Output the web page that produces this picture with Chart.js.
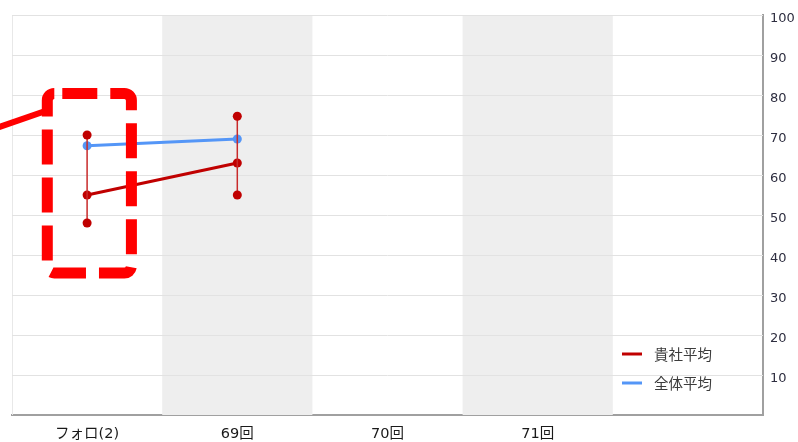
<!DOCTYPE html>
<html>
<head>
<meta charset="utf-8">
<script src="https://cdn.jsdelivr.net/npm/chart.js@4/dist/chart.umd.min.js"></script>
<style>
  html, body { margin: 0; padding: 0; background: #ffffff; }
  #wrap { width: 798px; height: 442px; position: relative; }
</style>
</head>
<body>
<div id="wrap"><canvas id="c" width="798" height="442"></canvas></div>
<script>
// Categories (the fifth slot is an empty column)
const categories = ['フォロ(2)', '69回', '70回', '71回', ''];

// 貴社平均 with its min/max range
const companyAvg  = [55, 63, null, null, null];
const companyLow  = [48, 55, null, null, null];
const companyHigh = [70, 74.7, null, null, null];

// 全体平均
const overallAvg = [67.3, 69, null, null, null];

// Value axis ticks
const yTicks = [10, 20, 30, 40, 50, 60, 70, 80, 90, 100];

const RED = '#c00000';
const BLUE = '#5496f7';
const FONT = '"DejaVu Sans", "Noto Sans CJK JP", sans-serif';

// Shaded bands behind every other category column
const bandPlugin = {
  id: 'bands',
  beforeDatasetsDraw(chart) {
    const { ctx, chartArea, scales: { x } } = chart;
    const step = x.getPixelForValue(1) - x.getPixelForValue(0);
    ctx.save();
    for (let i = 1; i < categories.length; i += 2) {
      const cx = x.getPixelForValue(i);
      ctx.fillStyle = '#eeeeee';
      ctx.fillRect(cx - step / 2, chartArea.top, step, chartArea.bottom - chartArea.top);
    }
    ctx.strokeStyle = '#e8e8e8';
    ctx.lineWidth = 1;
    ctx.beginPath();
    ctx.moveTo(chartArea.left + 0.5, chartArea.top);
    ctx.lineTo(chartArea.left + 0.5, chartArea.bottom);
    ctx.stroke();
    ctx.restore();
  }
};

// Gridlines redrawn over the bands so they stay visible
const gridOverBands = {
  id: 'gridOverBands',
  beforeDatasetsDraw(chart) {
    const { ctx, chartArea, scales: { y } } = chart;
    ctx.save();
    ctx.strokeStyle = '#e2e2e2';
    ctx.lineWidth = 1;
    yTicks.forEach(v => {
      const py = Math.round(y.getPixelForValue(v)) + 0.5;
      ctx.beginPath();
      ctx.moveTo(chartArea.left, py);
      ctx.lineTo(chartArea.right, py);
      ctx.stroke();
    });
    ctx.restore();
  }
};

// Vertical min/max bars for 貴社平均
const rangePlugin = {
  id: 'rangeBars',
  afterDatasetsDraw(chart) {
    const { ctx, scales: { x, y } } = chart;
    ctx.save();
    companyLow.forEach((lo, i) => {
      const hi = companyHigh[i];
      if (lo == null || hi == null) return;
      const px = x.getPixelForValue(i);
      const yLo = y.getPixelForValue(lo);
      const yHi = y.getPixelForValue(hi);
      ctx.strokeStyle = '#c82a2a';
      ctx.lineWidth = 1.5;
      ctx.beginPath();
      ctx.moveTo(px, yHi);
      ctx.lineTo(px, yLo);
      ctx.stroke();
      ctx.fillStyle = RED;
      [yLo, yHi].forEach(py => {
        ctx.beginPath();
        ctx.arc(px, py, 4.5, 0, Math.PI * 2);
        ctx.fill();
      });
    });
    ctx.restore();
  }
};

// Legend drawn inside the plot, lower right
const innerLegend = {
  id: 'innerLegend',
  afterDraw(chart) {
    const { ctx, chartArea } = chart;
    ctx.save();
    ctx.font = '14.5px "Noto Sans CJK JP", sans-serif';
    ctx.textBaseline = 'middle';
    ctx.textAlign = 'left';
    chart.data.datasets.forEach((ds, i) => {
      const yy = chartArea.bottom - 61 + i * 29;
      const xx = chartArea.right - 141;
      ctx.strokeStyle = ds.borderColor;
      ctx.lineWidth = 3;
      ctx.beginPath();
      ctx.moveTo(xx, yy);
      ctx.lineTo(xx + 20, yy);
      ctx.stroke();
      ctx.fillStyle = '#3c3c3c';
      ctx.fillText(ds.label, xx + 32, yy);
    });
    ctx.restore();
  }
};

// Red dashed highlight box around the first column, with its callout stroke
const highlight = {
  id: 'highlight',
  afterDraw(chart) {
    const { ctx, scales: { x, y } } = chart;
    const cx = x.getPixelForValue(0);
    const step = x.getPixelForValue(1) - cx;
    const left = cx - 0.265 * step;
    const right = cx + 0.295 * step;
    const top = y.getPixelForValue(80.4);
    const bottom = y.getPixelForValue(35.5);
    ctx.save();
    ctx.strokeStyle = '#ff0000';
    ctx.lineWidth = 11;
    ctx.setLineDash([35, 13]);
    ctx.lineDashOffset = -8;
    ctx.beginPath();
    ctx.roundRect(left, top, right - left, bottom - top, 7);
    ctx.stroke();
    ctx.setLineDash([]);
    ctx.lineWidth = 6;
    ctx.beginPath();
    ctx.moveTo(-2, top + 34);
    ctx.lineTo(left, top + 17);
    ctx.stroke();
    ctx.restore();
  }
};

new Chart(document.getElementById('c'), {
  type: 'line',
  data: {
    labels: categories,
    datasets: [
      {
        label: '貴社平均',
        data: companyAvg,
        borderColor: RED,
        backgroundColor: RED,
        borderWidth: 3,
        pointRadius: 4.5,
        pointHoverRadius: 4.5,
        pointBackgroundColor: RED,
        pointBorderWidth: 0,
        tension: 0
      },
      {
        label: '全体平均',
        data: overallAvg,
        borderColor: BLUE,
        backgroundColor: BLUE,
        borderWidth: 3,
        pointRadius: 4.5,
        pointHoverRadius: 4.5,
        pointBackgroundColor: BLUE,
        pointBorderWidth: 0,
        tension: 0
      }
    ]
  },
  options: {
    responsive: false,
    animation: false,
    layout: { padding: { left: 12, top: 15, right: 0, bottom: 0 } },
    plugins: {
      legend: { display: false },
      tooltip: { enabled: false }
    },
    scales: {
      x: {
        type: 'category',
        offset: true,
        grid: { display: false, drawTicks: false },
        border: { display: true, color: '#a0a0a0', width: 2 },
        ticks: {
          color: '#1a1a1a',
          font: { family: FONT, size: 14.5 },
          padding: 11,
          maxRotation: 0,
          autoSkip: false
        },
        afterFit(s) { s.height = 27; }
      },
      y: {
        position: 'right',
        min: 0,
        max: 100,
        grid: { display: false, drawTicks: false },
        border: { display: true, color: '#a0a0a0', width: 2 },
        ticks: {
          stepSize: 10,
          color: '#2e2e40',
          font: { family: FONT, size: 13 },
          padding: 7,
          labelOffset: 4,
          callback: v => (yTicks.includes(v) ? String(v) : '')
        },
        afterFit(s) { s.width = 35; }
      }
    }
  },
  plugins: [bandPlugin, gridOverBands, rangePlugin, innerLegend, highlight]
});
</script>
</body>
</html>
